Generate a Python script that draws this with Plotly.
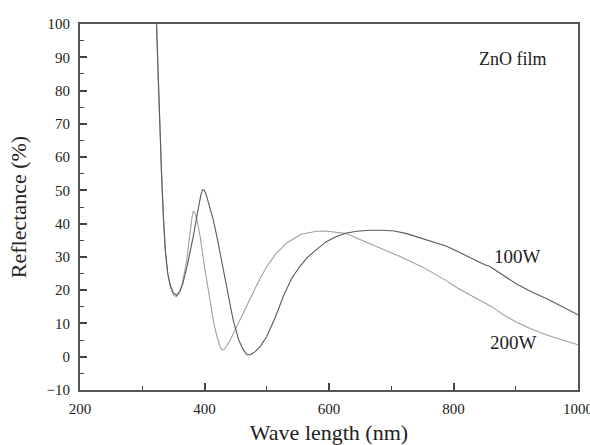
import plotly.graph_objects as go

# 100W series
x_100 = [321, 323, 325, 327, 329, 331, 334, 337, 341, 345, 350, 355, 360, 365, 371, 377,
         382, 387, 391, 394, 397, 400, 403, 407, 414, 420, 428, 436, 446, 455, 462, 468,
         474, 482, 490, 500, 513, 527, 540, 553, 566, 580, 595, 610, 628, 645, 665, 687,
         705, 725, 745, 765, 789, 810, 830, 845, 852, 858, 875, 900, 925, 950, 975, 1000]
y_100 = [105, 100, 88, 76, 64, 55, 42, 32, 25, 21.5, 19.2, 18.5, 19.5, 21.8, 26.3, 31.5,
         36.2, 41.5, 45.5, 48.5, 50.2, 50, 48.5, 45.8, 41.2, 36, 28.5, 21, 11.1, 5, 2.2, 0.6,
         0.6, 1.6, 3.2, 6.1, 11.5, 18.3, 23.5, 27.1, 30, 32.2, 34.5, 36, 37.2, 37.7, 38, 38,
         37.8, 37, 35.8, 34.5, 33.2, 31.3, 29.5, 28, 27.5, 27.2, 25, 22, 19.5, 17.4, 15, 12.6]

# 200W series
x_200 = [321, 323, 325, 327, 329, 331, 334, 337, 341, 345, 350, 355, 360, 365, 371, 376,
         380, 382, 385, 388, 393, 400, 409, 415, 420, 425, 428, 432, 440, 449, 460, 473,
         486, 500, 515, 532, 555, 580, 595, 612, 628, 645, 660, 680, 714, 750, 789, 805,
         826, 845, 855, 860, 880, 900, 925, 950, 975, 1000]
y_200 = [105, 100, 88, 76, 64, 55, 42, 32, 25, 21, 18.6, 18, 19.5, 22.5, 28.5, 36.5,
         42, 43.7, 43.2, 41, 36.2, 27, 16.2, 10, 6.1, 3, 2.1, 2.3, 4.5, 8.1, 12.3, 17.3,
         22.3, 27.1, 31, 34.2, 36.8, 37.7, 37.8, 37.5, 37, 35.6, 34.3, 32.8, 30.1, 27, 22.8, 20.8,
         18.6, 16.8, 15.9, 15.2, 12.6, 10.5, 8.3, 6.5, 5, 3.6]

x_ticks = [200, 400, 600, 800, 1000]
y_ticks = [-10, 0, 10, 20, 30, 40, 50, 60, 70, 80, 90, 100]

series_labels = ["100W", "200W"]
title_text = "ZnO film"

FONT = "Liberation Serif, Times New Roman, serif"

fig = go.Figure()
fig.add_trace(go.Scatter(x=x_200, y=y_200, mode="lines", name=series_labels[1],
                         line=dict(color="#a0a0a0", width=1.1)))
fig.add_trace(go.Scatter(x=x_100, y=y_100, mode="lines", name=series_labels[0],
                         line=dict(color="#5a5a5a", width=1.1)))

fig.add_annotation(x=903, y=30, text=series_labels[0], showarrow=False,
                   font=dict(family=FONT, size=19, color="#222"))
fig.add_annotation(x=896, y=4.2, text=series_labels[1], showarrow=False,
                   font=dict(family=FONT, size=19, color="#222"))
fig.add_annotation(x=896, y=89.6, text=title_text, showarrow=False,
                   font=dict(family=FONT, size=18, color="#222"))

axis_common = dict(showline=True, linecolor="#555555", linewidth=2, mirror=True,
                   ticks="inside", ticklen=7, tickwidth=1.5, tickcolor="#444",
                   showgrid=False, zeroline=False, automargin=False,
                   tickfont=dict(family=FONT, size=15, color="#222"))

fig.update_xaxes(range=[200, 1000], tickvals=x_ticks,
                 minor=dict(dtick=100, ticks="inside", ticklen=4, tickcolor="#444", tickwidth=1.2),
                 ticklabelstandoff=4, ticklabeloverflow="allow",
                 title=dict(text="Wave length (nm)", font=dict(family=FONT, size=22, color="#222"),
                            standoff=14),
                 **axis_common)
fig.update_yaxes(range=[-10, 100], tickvals=y_ticks,
                 minor=dict(dtick=5, ticks="inside", ticklen=4, tickcolor="#444", tickwidth=1.2),
                 ticklabelstandoff=5,
                 title=dict(text="Reflectance (%)", font=dict(family=FONT, size=22, color="#222"),
                            standoff=14),
                 **axis_common)

fig.update_layout(width=590, height=445, margin=dict(l=80, r=12, t=24, b=55),
                  font=dict(family=FONT, color="#222"),
                  plot_bgcolor="white", paper_bgcolor="white", showlegend=False)

fig.write_html("out.html")
